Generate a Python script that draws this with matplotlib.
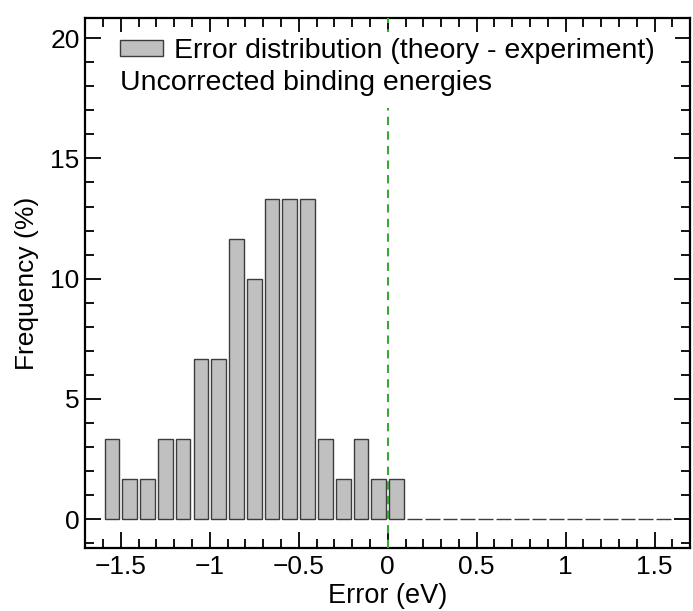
"""Histogram of binding-energy errors (theory - experiment)."""

import matplotlib.pyplot as plt
from matplotlib.patches import Rectangle
from matplotlib.ticker import MultipleLocator

plt.rcParams["font.family"] = ["Liberation Sans", "DejaVu Sans"]

# bin centres (eV) and frequency (%) per bin
bin_centers = [-1.55, -1.45, -1.35, -1.25, -1.15, -1.05, -0.95, -0.85, -0.75,
               -0.65, -0.55, -0.45, -0.35, -0.25, -0.15, -0.05, 0.05, 0.15,
               0.25, 0.35, 0.45, 0.55, 0.65, 0.75, 0.85, 0.95, 1.05, 1.15,
               1.25, 1.35, 1.45, 1.55]
frequency = [3.33, 1.67, 1.67, 3.33, 3.33, 6.67, 6.67, 11.67, 10.0,
             13.33, 13.33, 13.33, 3.33, 1.67, 3.33, 1.67, 1.67, 0.0,
             0.0, 0.0, 0.0, 0.0, 0.0, 0.0, 0.0, 0.0, 0.0, 0.0,
             0.0, 0.0, 0.0, 0.0]

fig = plt.figure(figsize=(6.93, 6.11), dpi=100)
ax = fig.add_axes([0.123, 0.103, 0.873, 0.868])

ax.bar(bin_centers, frequency, width=0.083, color="#c0c0c0",
       edgecolor="#3c3c3c", linewidth=1.0,
       label="Error distribution (theory - experiment)", zorder=2)
ax.axvline(0.0, color="#3aa832", linestyle="--", linewidth=1.5,
           dashes=(4, 3), zorder=3)

ax.set_xlim(-1.7, 1.7)
ax.set_ylim(-1.2, 20.85)
ax.xaxis.set_major_locator(MultipleLocator(0.5))
ax.xaxis.set_minor_locator(MultipleLocator(0.1))
ax.yaxis.set_major_locator(MultipleLocator(5))
ax.yaxis.set_minor_locator(MultipleLocator(1))
ax.xaxis.set_major_formatter(plt.FuncFormatter(lambda v, _: f"{v:g}".replace("-", "\u2212")))

ax.tick_params(which="both", direction="in", top=True, right=True,
               width=1.3, labelsize=19)
ax.tick_params(axis="y", pad=4)
ax.tick_params(axis="x", pad=5)
ax.tick_params(which="major", length=11.5)
ax.tick_params(which="minor", length=6.5)
for spine in ax.spines.values():
    spine.set_linewidth(1.6)

ax.set_xlabel("Error (eV)", fontsize=19.5, labelpad=3)
ax.set_ylabel("Frequency (%)", fontsize=19, labelpad=8)

# white backdrop so the legend block hides the reference line
ax.add_patch(Rectangle((0.035, 0.83), 0.94, 0.144, transform=ax.transAxes,
                       facecolor="white", edgecolor="none", zorder=4))

leg = ax.legend(loc="upper left", bbox_to_anchor=(0.058, 0.961), frameon=False,
                fontsize=20.5, handlelength=1.5, handleheight=0.5,
                handletextpad=0.4, borderpad=0.0, borderaxespad=0.0)
leg.set_zorder(5)
ax.text(0.058, 0.877, "Uncorrected binding energies", transform=ax.transAxes,
        fontsize=20.5, ha="left", va="center", zorder=5)

fig.savefig("out.png", dpi=100)
